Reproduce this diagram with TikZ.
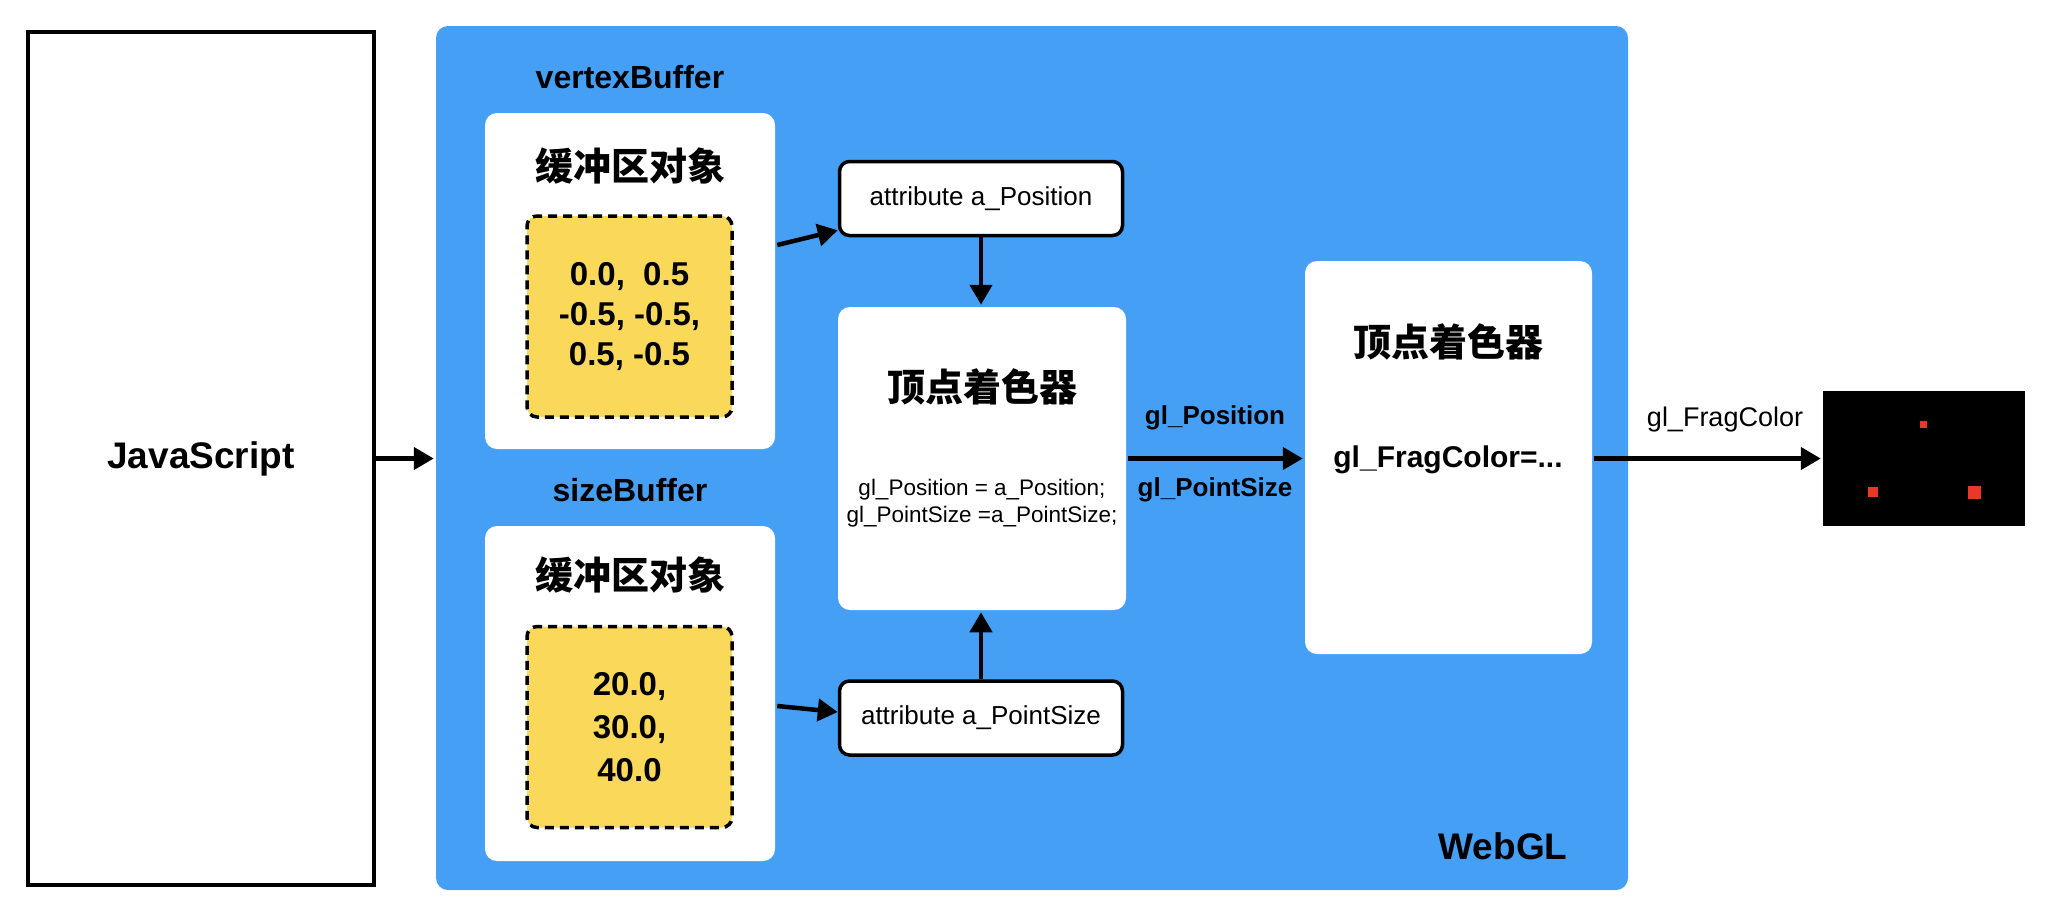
\documentclass[tikz,border=0pt]{standalone}
\usepackage{fontspec}
\setmainfont{Liberation Sans}
\newfontfamily\cjk{Noto Sans CJK SC}
\usetikzlibrary{arrows.meta}
\newcommand{\fsz}[2]{\fontsize{#1}{#2}\selectfont}
\definecolor{webblue}{RGB}{69,160,245}
\definecolor{bufyellow}{RGB}{249,216,90}
\definecolor{pixred}{RGB}{233,56,40}
\begin{document}
\begin{tikzpicture}[x=1pt,y=-1pt,>={Triangle[length=20pt,width=22pt]},line width=4.5pt,
	panel/.style={fill=white,rounded corners=12pt,inner sep=0pt},
	databox/.style={fill=bufyellow,draw=black,line width=3.5pt,dash pattern=on 9pt off 6pt,rounded corners=10pt,minimum width=205pt,minimum height=201pt,align=center,font=\fsz{33}{40}\bfseries},
	attrbox/.style={fill=white,draw=black,line width=3.5pt,rounded corners=10pt,minimum width=283pt,minimum height=74pt,font=\fsz{26}{30}},
	title/.style={font=\fsz{32}{38}\bfseries},
	cjktitle/.style={font=\cjk\fsz{38}{44}\bfseries},
	flow/.style={->,line width=4.5pt}]
	\useasboundingbox[fill=white] (0,0) rectangle (2050,914);
	% left side
	\node[draw,minimum width=346pt,minimum height=853pt,inner sep=0pt,font=\fsz{37}{44}\bfseries] (js) at (201,458.5) {JavaScript};
	\node[fill=webblue,rounded corners=12pt,minimum width=1192pt,minimum height=864pt,inner sep=0pt] (webgl) at (1032,458) {};
	\node[font=\fsz{37}{44}\bfseries] (webgllbl) at (1503,846) {WebGL};
	% buffers
	\node[title] (vbuf) at (630,77) {vertexBuffer};
	\node[panel,minimum width=290pt,minimum height=336pt] (bufA) at (630,281) {};
	\node[cjktitle] (bufAtitle) at (630,166) {缓冲区对象};
	\node[databox] (yelA) at (629.5,316.5) {0.0,~~0.5\\-0.5, -0.5,\\0.5, -0.5};
	\node[title] (sbuf) at (630,490) {sizeBuffer};
	\node[panel,minimum width=290pt,minimum height=335pt] (bufB) at (630,693.5) {};
	\node[cjktitle] (bufBtitle) at (630,575) {缓冲区对象};
	\node[databox,font=\fsz{33}{43}\bfseries] (yelB) at (629.5,727) {20.0,\\30.0,\\40.0};
	% attributes and shaders
	\node[attrbox] (attrPos) at (981,198.5) {attribute a\_Position};
	\node[attrbox] (attrSize) at (981,718) {attribute a\_PointSize};
	\node[panel,minimum width=288pt,minimum height=303pt] (vsh) at (982,458.5) {};
	\node[cjktitle] (vshtitle) at (982,387) {顶点着色器};
	\node[align=center,font=\fsz{22.5}{27.5}] (vshcode) at (982,503) {gl\_Position = a\_Position;\\gl\_PointSize =a\_PointSize;};
	\node[panel,minimum width=287pt,minimum height=393pt] (fsh) at (1448.5,457.5) {};
	\node[cjktitle] (fshtitle) at (1448,342) {顶点着色器};
	\node[font=\fsz{30}{36}\bfseries] (fshcode) at (1448,460) {gl\_FragColor=...};
	% result
	\node[fill=black,minimum width=202pt,minimum height=135pt,inner sep=0pt] (screen) at (1924,458.5) {};
	\node[fill=pixred,minimum size=7pt,inner sep=0pt] (px1) at (1923,424) {};
	\node[fill=pixred,minimum size=10pt,inner sep=0pt] (px2) at (1873,492) {};
	\node[fill=pixred,minimum size=13pt,inner sep=0pt] (px3) at (1974,492) {};
	% connectors
	\draw[flow] (js.east) -- (webgl.west |- js.east);
	\draw[flow] ([yshift=36pt]bufA.east) -- ([yshift=7pt]attrPos.south west);
	\draw[flow] ([yshift=-12.5pt]bufB.east) -- ([yshift=6pt]attrSize.west);
	\draw[flow] (attrPos.south) -- (attrPos.south |- vsh.north);
	\draw[flow] (attrSize.north) -- (attrSize.north |- vsh.south);
	\draw[flow] (vsh.east) -- (fsh.west |- vsh.east);
	\node[font=\fsz{26}{30}\bfseries] (lblpos) at (1215,418) {gl\_Position};
	\node[font=\fsz{26}{30}\bfseries] (lblsize) at (1215,490) {gl\_PointSize};
	\draw[flow] (fsh.east |- screen.west) -- (screen.west);
	\node[font=\fsz{27}{32}] (lblfrag) at (1725,420) {gl\_FragColor};
\end{tikzpicture}
\end{document}
